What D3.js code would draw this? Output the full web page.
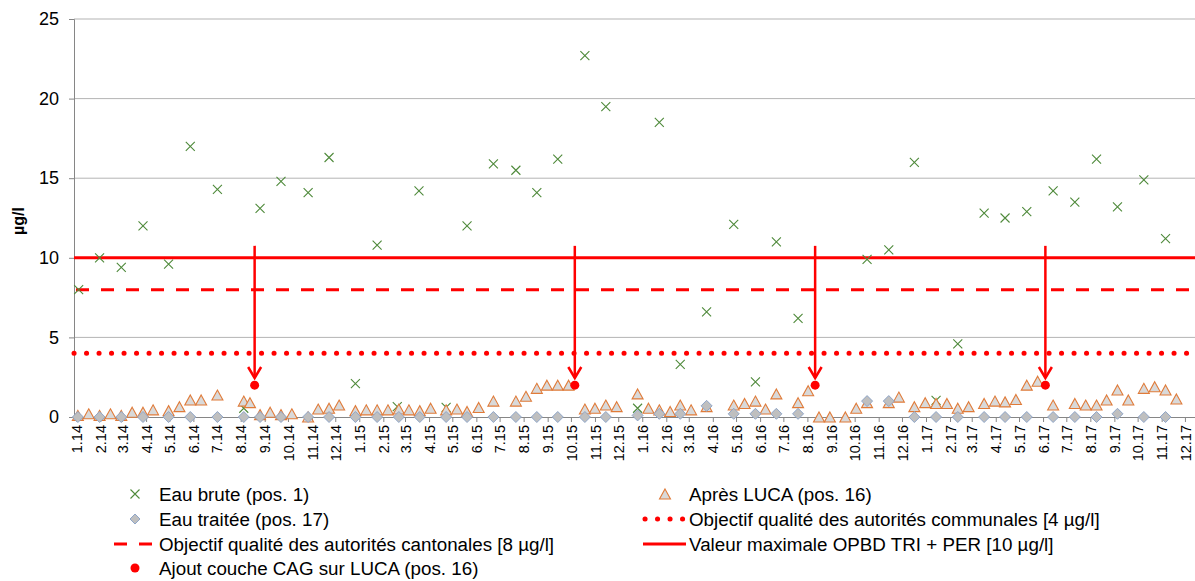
<!DOCTYPE html>
<meta charset="utf-8">
<script src="https://cdn.jsdelivr.net/npm/d3@7"></script>
<style>
  body { margin: 0; background: #fff; }
  text { font-family: "Liberation Sans", Arial, sans-serif; fill: #000; }
</style>
<div id="my_dataviz"></div>
<script>

// Eau brute (pos. 1)
var brutDates = ["2014-01-04","2014-01-31","2014-02-28","2014-03-28","2014-04-30","2014-05-28","2014-07-02","2014-08-05",
  "2014-08-26","2014-09-22","2014-10-27","2014-11-23","2014-12-27","2015-01-24","2015-02-19","2015-03-19","2015-04-23",
  "2015-05-20","2015-06-23","2015-07-22","2015-08-18","2015-09-14","2015-10-19","2015-11-15","2015-12-26","2016-01-23",
  "2016-02-19","2016-03-24","2016-04-28","2016-05-26","2016-06-22","2016-07-20","2016-10-17","2016-11-14","2016-12-17",
  "2017-01-14","2017-02-11","2017-03-17","2017-04-13","2017-05-11","2017-06-14","2017-07-12","2017-08-09","2017-09-05",
  "2017-10-09","2017-11-06"];
var brutValues = [8.0, 10.0, 9.4, 12.0, 9.6, 17.0, 14.3, 0.55,
  13.1, 14.8, 14.1, 16.3, 2.1, 10.8, 0.65, 14.2, 0.6,
  12.0, 15.9, 15.5, 14.1, 16.2, 22.7, 19.5, 0.55, 18.5,
  3.3, 6.6, 12.1, 2.2, 11.0, 6.2, 9.9, 10.5, 16.0,
  1.05, 4.6, 12.8, 12.5, 12.9, 14.2, 13.5, 16.2, 13.2,
  14.9, 11.2];

// Après LUCA (pos. 16)
var lucaDates = ["2014-01-03","2014-01-17","2014-01-31","2014-02-14","2014-02-28","2014-03-14","2014-03-28","2014-04-10",
  "2014-04-30","2014-05-14","2014-05-28","2014-06-11","2014-07-02","2014-08-05","2014-08-13","2014-08-26","2014-09-08",
  "2014-09-22","2014-10-06","2014-10-27","2014-11-09","2014-11-23","2014-12-06","2014-12-27","2015-01-10","2015-01-24",
  "2015-02-07","2015-02-21","2015-03-06","2015-03-20","2015-04-03","2015-04-23","2015-05-07","2015-05-20","2015-06-04",
  "2015-06-23","2015-07-22","2015-08-04","2015-08-18","2015-08-31","2015-09-14","2015-09-28","2015-10-19","2015-11-01",
  "2015-11-15","2015-11-29","2015-12-26","2016-01-09","2016-01-23","2016-02-06","2016-02-19","2016-03-04","2016-03-24",
  "2016-04-28","2016-05-12","2016-05-26","2016-06-08","2016-06-22","2016-07-20","2016-08-02","2016-08-16","2016-08-30",
  "2016-09-19","2016-10-03","2016-10-17","2016-11-14","2016-11-27","2016-12-17","2016-12-31","2017-01-14","2017-01-28",
  "2017-02-11","2017-02-25","2017-03-17","2017-03-31","2017-04-13","2017-04-27","2017-05-11","2017-05-25","2017-06-14",
  "2017-07-12","2017-07-26","2017-08-09","2017-08-22","2017-09-05","2017-09-19","2017-10-09","2017-10-23","2017-11-06",
  "2017-11-20"];
var lucaValues = [0.1, 0.2, 0.1, 0.2, 0.1, 0.3, 0.3, 0.45,
  0.4, 0.65, 1.07, 1.07, 1.38, 1.0, 0.9, 0.15, 0.3,
  0.15, 0.2, 0.0, 0.5, 0.55, 0.75, 0.4, 0.45, 0.45,
  0.45, 0.5, 0.45, 0.4, 0.55, 0.45, 0.5, 0.35, 0.6,
  1.0, 1.0, 1.3, 1.8, 2.0, 2.0, 2.0, 0.5, 0.55,
  0.75, 0.65, 1.45, 0.55, 0.45, 0.35, 0.75, 0.45, 0.65,
  0.75, 0.85, 1.0, 0.5, 1.45, 0.9, 1.65, 0.0, 0.0,
  0.0, 0.55, 0.9, 0.9, 1.25, 0.65, 0.9, 0.85, 0.85,
  0.55, 0.65, 0.85, 1.0, 0.95, 1.1, 2.0, 2.25, 0.75,
  0.85, 0.75, 0.75, 1.07, 1.7, 1.07, 1.8, 1.9, 1.7,
  1.13];

// Eau traitée (pos. 17)
var traiteeDates = ["2014-01-03","2014-01-31","2014-02-28","2014-03-28","2014-04-30","2014-05-28","2014-07-02","2014-08-05",
  "2014-08-26","2014-09-22","2014-10-27","2014-11-23","2014-12-27","2015-01-24","2015-02-21","2015-03-20","2015-04-23",
  "2015-05-20","2015-06-23","2015-07-22","2015-08-18","2015-09-14","2015-10-19","2015-11-15","2015-12-26","2016-01-23",
  "2016-02-19","2016-03-24","2016-04-28","2016-05-26","2016-06-22","2016-07-20","2016-10-17","2016-11-14","2016-12-17",
  "2017-01-14","2017-02-11","2017-03-17","2017-04-13","2017-05-11","2017-06-14","2017-07-12","2017-08-09","2017-09-05",
  "2017-10-09","2017-11-06"];
var traiteeValues = [0, 0, 0, 0, 0, 0, 0, 0,
  0, 0, 0, 0, 0, 0, 0, 0, 0,
  0, 0, 0, 0, 0, 0, 0, 0.1, 0.2,
  0.2, 0.7, 0.2, 0.2, 0.2, 0.2, 1.0, 1.0, 0,
  0, 0, 0, 0, 0, 0, 0, 0, 0.2,
  0, 0];

// Ajout couche CAG sur LUCA (pos. 16)
var cagDates = ["2014-08-19", "2015-10-06", "2016-08-11", "2017-06-04"];
var cagValues = [2.0, 2.0, 2.0, 2.0];

// limits (µg/l)
var limitCommunal = 4, limitCantonal = 8, limitMax = 10;
var yTicks = [0, 5, 10, 15, 20, 25];
var xStart = "2013-12-29", xEnd = "2017-12-14";

var W = 1195, H = 581;
var margin = {top: 19, right: 0, bottom: 164, left: 74},
    width = W - margin.left - margin.right,
    height = H - margin.top - margin.bottom;

var parse = d3.timeParse("%Y-%m-%d");

var svg = d3.select("#my_dataviz")
  .append("svg")
    .attr("width", W)
    .attr("height", H)
  .append("g")
    .attr("transform", "translate(" + margin.left + "," + margin.top + ")");

var x = d3.scaleTime()
  .domain([parse(xStart), parse(xEnd)])
  .range([0, width]);
var y = d3.scaleLinear()
  .domain([0, 25])
  .range([height, 0]);

// gridlines
svg.selectAll("line.grid")
  .data(yTicks.filter(function(d) { return d > 0; }))
  .enter().append("line")
    .attr("x1", 0).attr("x2", width)
    .attr("y1", function(d) { return y(d); })
    .attr("y2", function(d) { return y(d); })
    .attr("stroke", function(d) { return d == 25 ? "#d9d9d9" : "#b4b4b4"; })
    .attr("stroke-width", function(d) { return d == 25 ? 2 : 1; });

// Y axis
var yAxis = svg.append("g")
  .call(d3.axisLeft(y).tickValues(yTicks).tickSize(5).tickPadding(10));
yAxis.select(".domain").attr("stroke", "#868686");
yAxis.selectAll(".tick line").attr("stroke", "#868686");
yAxis.selectAll(".tick text").style("font-size", "18px").attr("fill", "#000");

svg.append("text")
  .attr("transform", "rotate(-90)")
  .attr("x", -(221 - margin.top))
  .attr("y", -56)
  .attr("dy", "0.35em")
  .style("font-size", "16px")
  .style("font-weight", "bold")
  .style("text-anchor", "middle")
  .text("µg/l");

// X axis (months)
var months = d3.timeMonth.range(new Date(2014, 0, 1), new Date(2017, 11, 2));
var xAxis = svg.append("g")
  .attr("transform", "translate(0," + height + ")")
  .call(d3.axisBottom(x).tickValues(months).tickFormat(d3.timeFormat("%-m.%y")).tickSize(5).tickSizeOuter(0));
xAxis.select(".domain").attr("stroke", "#868686");
xAxis.selectAll(".tick line").attr("stroke", "#868686");
xAxis.selectAll(".tick text")
  .style("font-size", "14.5px")
  .attr("fill", "#000")
  .attr("transform", "rotate(-90)")
  .attr("x", -8)
  .attr("y", 0)
  .attr("dy", "0.35em")
  .style("text-anchor", "end");

// limit lines
svg.append("line")
  .attr("x1", 0).attr("x2", width)
  .attr("y1", y(limitCommunal)).attr("y2", y(limitCommunal))
  .attr("stroke", "#ff0000").attr("stroke-width", 5)
  .attr("stroke-linecap", "round")
  .style("stroke-dasharray", "0.1, 12.4");
svg.append("line")
  .attr("x1", 2).attr("x2", width)
  .attr("y1", y(limitCantonal)).attr("y2", y(limitCantonal))
  .attr("stroke", "#ff0000").attr("stroke-width", 3)
  .style("stroke-dasharray", "13, 12");
svg.append("line")
  .attr("x1", 0).attr("x2", width)
  .attr("y1", y(limitMax)).attr("y2", y(limitMax))
  .attr("stroke", "#ff0000").attr("stroke-width", 3);

// markers
function crossPath(s) {
  return "M" + (-s) + "," + (-s) + "L" + s + "," + s + "M" + (-s) + "," + s + "L" + s + "," + (-s);
}
function trianglePath(w, h) {
  return "M0," + (-h / 2) + "L" + (w / 2) + "," + (h / 2) + "L" + (-w / 2) + "," + (h / 2) + "Z";
}
function diamondPath(s) {
  return "M0," + (-s) + "L" + s + ",0L0," + s + "L" + (-s) + ",0Z";
}

var brut = brutDates.map(function(d, i) { return {date: parse(d), value: brutValues[i]}; });
var luca = lucaDates.map(function(d, i) { return {date: parse(d), value: lucaValues[i]}; });
var traitee = traiteeDates.map(function(d, i) { return {date: parse(d), value: traiteeValues[i]}; });
var cag = cagDates.map(function(d, i) { return {date: parse(d), value: cagValues[i]}; });

function tr(d) { return "translate(" + x(d.date) + "," + y(d.value) + ")"; }

svg.selectAll("path.brut")
  .data(brut).enter().append("path")
    .attr("d", crossPath(4.5))
    .attr("transform", tr)
    .attr("fill", "none")
    .attr("stroke", "#4f8a3b")
    .attr("stroke-width", 1.1);

svg.selectAll("path.luca")
  .data(luca).enter().append("path")
    .attr("d", trianglePath(11, 10))
    .attr("transform", tr)
    .attr("fill", "#d9d9d9")
    .attr("stroke", "#e07b39")
    .attr("stroke-width", 1.1);

svg.selectAll("path.traitee")
  .data(traitee).enter().append("path")
    .attr("d", diamondPath(5.5))
    .attr("transform", tr)
    .attr("fill", "#bfbfbf")
    .attr("stroke", "#8fa6c9")
    .attr("stroke-width", 1);

// arrows to the CAG points
var arrowTop = 10.75, arrowTip = 2.45;
svg.selectAll("line.arrow")
  .data(cag).enter().append("line")
    .attr("x1", function(d) { return x(d.date); })
    .attr("x2", function(d) { return x(d.date); })
    .attr("y1", y(arrowTop))
    .attr("y2", y(arrowTip))
    .attr("stroke", "#ff0000")
    .attr("stroke-width", 2.5);
svg.selectAll("path.arrowhead")
  .data(cag).enter().append("path")
    .attr("d", "M-6.5,-11L0,0L6.5,-11")
    .attr("transform", function(d) { return "translate(" + x(d.date) + "," + y(arrowTip) + ")"; })
    .attr("fill", "none")
    .attr("stroke", "#ff0000")
    .attr("stroke-width", 2.5);

svg.selectAll("circle.cag")
  .data(cag).enter().append("circle")
    .attr("cx", function(d) { return x(d.date); })
    .attr("cy", function(d) { return y(d.value); })
    .attr("r", 4.5)
    .attr("fill", "#ff0000");

// legend (page coordinates)
var legend = d3.select("svg").append("g");
function legendText(px, py, label) {
  legend.append("text").attr("x", px).attr("y", py).attr("dy", "0.35em")
    .style("font-size", "18.8px").text(label);
}
var c1 = 135, c2 = 665, t1 = 159, t2 = 689;
var r1 = 494, r2 = 519, r3 = 544, r4 = 568;

legend.append("path").attr("d", crossPath(4.5)).attr("transform", "translate(" + c1 + "," + r1 + ")")
  .attr("fill", "none").attr("stroke", "#4f8a3b").attr("stroke-width", 1.1);
legendText(t1, r1, "Eau brute (pos. 1)");

legend.append("path").attr("d", trianglePath(11, 10)).attr("transform", "translate(" + c2 + "," + r1 + ")")
  .attr("fill", "#d9d9d9").attr("stroke", "#e07b39").attr("stroke-width", 1.1);
legendText(t2, r1, "Après LUCA (pos. 16)");

legend.append("path").attr("d", diamondPath(5)).attr("transform", "translate(" + c1 + "," + r2 + ")")
  .attr("fill", "#bfbfbf").attr("stroke", "#8fa6c9");
legendText(t1, r2, "Eau traitée (pos. 17)");

legend.append("line").attr("x1", 645).attr("x2", 686).attr("y1", r2).attr("y2", r2)
  .attr("stroke", "#ff0000").attr("stroke-width", 5).attr("stroke-linecap", "round")
  .style("stroke-dasharray", "0.1, 12.4");
legendText(t2, r2, "Objectif qualité des autorités communales [4 µg/l]");

legend.append("line").attr("x1", 114).attr("x2", 156).attr("y1", r3).attr("y2", r3)
  .attr("stroke", "#ff0000").attr("stroke-width", 3)
  .style("stroke-dasharray", "13, 12");
legendText(t1, r3, "Objectif qualité des autorités cantonales [8 µg/l]");

legend.append("line").attr("x1", 643).attr("x2", 686).attr("y1", r3).attr("y2", r3)
  .attr("stroke", "#ff0000").attr("stroke-width", 3);
legendText(t2, r3, "Valeur maximale OPBD TRI + PER [10 µg/l]");

legend.append("circle").attr("cx", c1).attr("cy", r4).attr("r", 4.5).attr("fill", "#ff0000");
legendText(t1, r4, "Ajout couche CAG sur LUCA (pos. 16)");

</script>
